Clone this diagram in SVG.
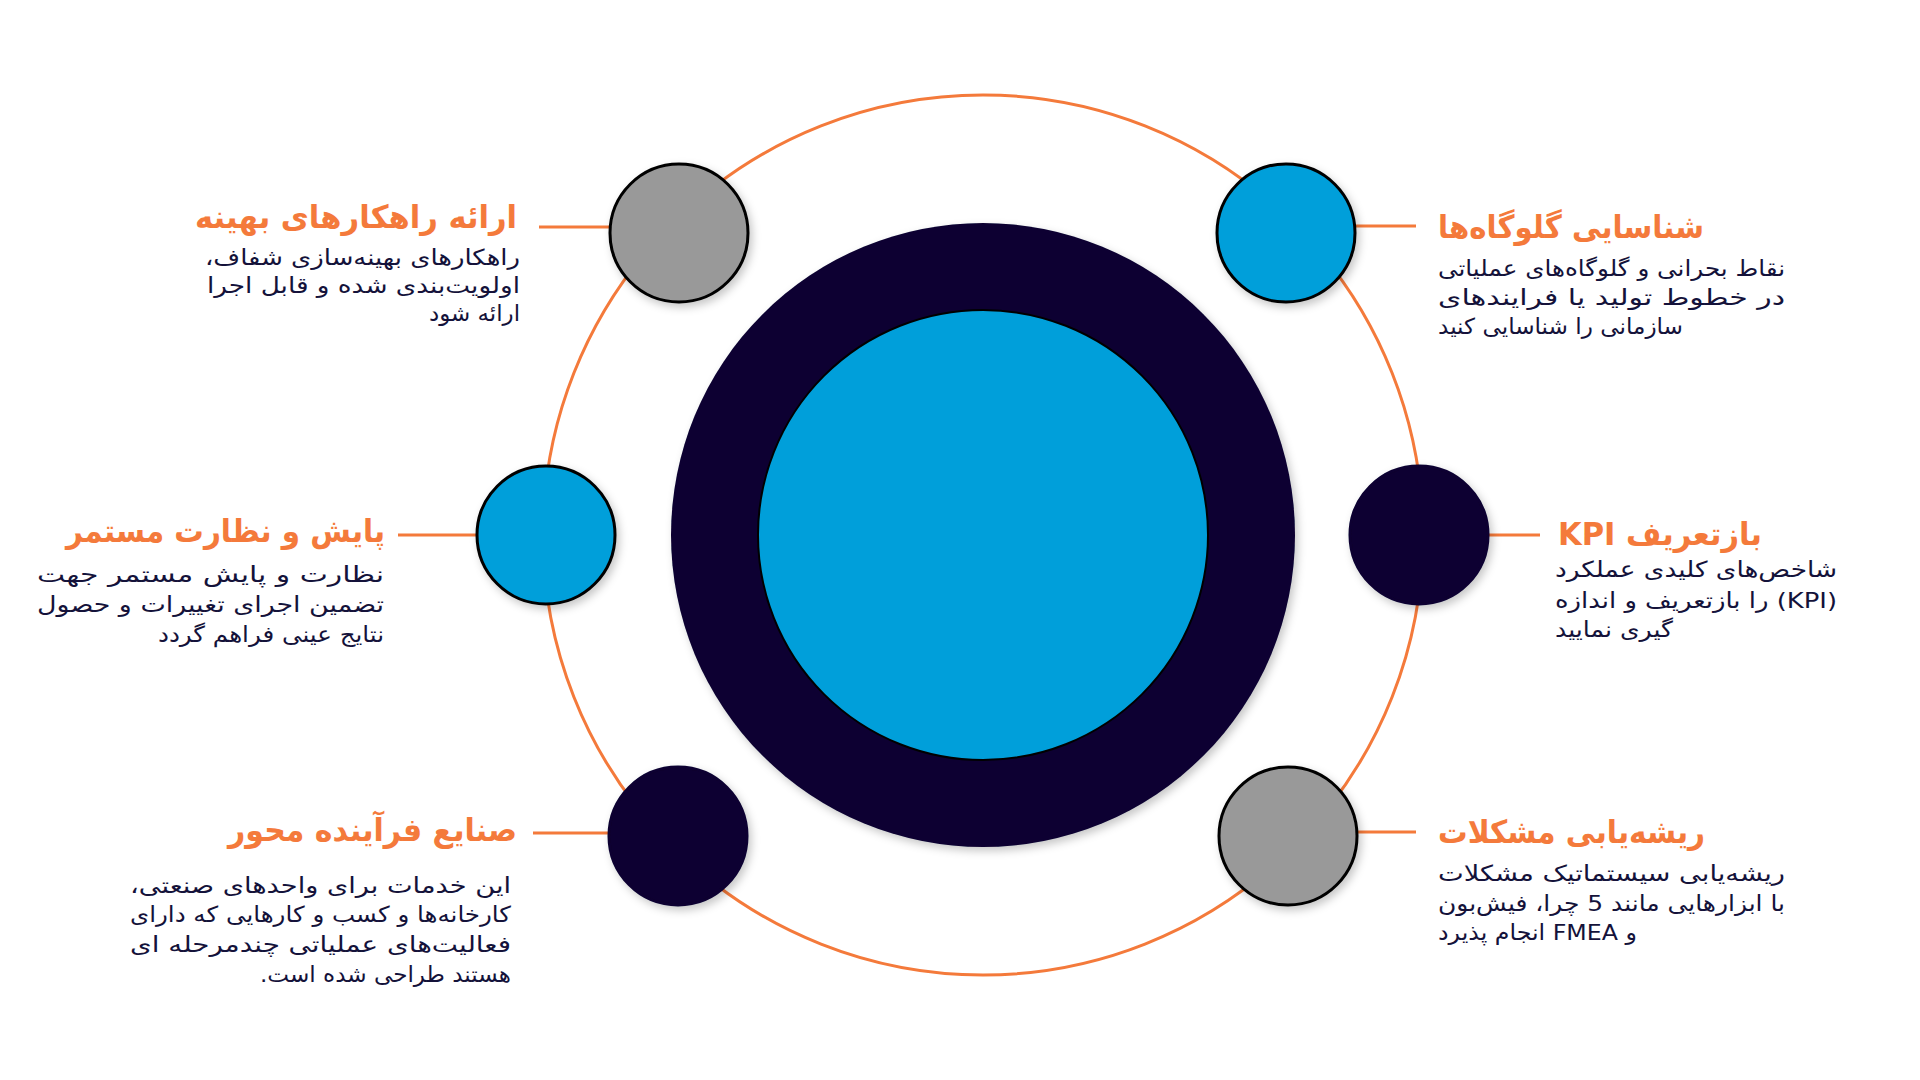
<svg xmlns="http://www.w3.org/2000/svg" width="1920" height="1080" viewBox="0 0 1920 1080">
  <defs>
    <filter id="shadow" x="-20%" y="-20%" width="150%" height="150%">
      <feDropShadow dx="3" dy="4" stdDeviation="4" flood-color="#000" flood-opacity="0.22"/>
    </filter>
    <style>
      .orbit { fill: none; stroke: #F47A3B; stroke-width: 3; }
      .conn { stroke: #F47A3B; stroke-width: 3; fill: none; }
      .node { stroke: #000; stroke-width: 3; filter: url(#shadow); }
      .gray { fill: #999999; }
      .blue { fill: #009FDA; }
      .navy { fill: #090530; stroke: #090530; }
      .title { font-family: "DejaVu Sans", sans-serif; font-weight: bold; font-size: 32px; fill: #F47A3B; direction: rtl; unicode-bidi: embed; }
      .body { font-family: "DejaVu Sans", sans-serif; font-size: 22px; fill: #14123A; direction: rtl; unicode-bidi: embed; }
    </style>
  </defs>
  <rect width="1920" height="1080" fill="#FFFFFF"/>

  <g id="orbit">
    <circle class="orbit" cx="983" cy="535" r="440"/>
  </g>

  <g id="connectors">
    <line class="conn" x1="539" y1="227" x2="612" y2="227"/>
    <line class="conn" x1="1353" y1="226" x2="1416" y2="226"/>
    <line class="conn" x1="398" y1="535" x2="478" y2="535"/>
    <line class="conn" x1="1486" y1="535" x2="1540" y2="535"/>
    <line class="conn" x1="533" y1="833" x2="611" y2="833"/>
    <line class="conn" x1="1356" y1="832" x2="1416" y2="832"/>
  </g>

  <g id="center">
    <circle cx="983" cy="535" r="312" fill="#090530" filter="url(#shadow)"/>
    <circle cx="983" cy="535" r="225" fill="#009FDA" stroke="#000" stroke-width="2"/>
  </g>

  <g id="node-optimal-solutions">
    <circle class="node gray" cx="679" cy="233" r="69"/>
    <text class="title" x="517" y="228" text-anchor="start" textLength="322" lengthAdjust="spacingAndGlyphs">ارائه راهکارهای بهینه</text>
    <text class="body" x="520" y="265" text-anchor="start" textLength="315" lengthAdjust="spacingAndGlyphs">راهکارهای بهینه‌سازی شفاف،</text>
    <text class="body" x="520" y="293" text-anchor="start" textLength="313" lengthAdjust="spacingAndGlyphs">اولویت‌بندی شده و قابل اجرا</text>
    <text class="body" x="520" y="321" text-anchor="start" textLength="91" lengthAdjust="spacingAndGlyphs">ارائه شود</text>
  </g>

  <g id="node-bottlenecks">
    <circle class="node blue" cx="1286" cy="233" r="69"/>
    <text class="title" x="1704" y="238" text-anchor="start" textLength="266" lengthAdjust="spacingAndGlyphs">شناسایی گلوگاه‌ها</text>
    <text class="body" x="1785" y="276" text-anchor="start" textLength="347" lengthAdjust="spacingAndGlyphs">نقاط بحرانی و گلوگاه‌های عملیاتی</text>
    <text class="body" x="1785" y="305" text-anchor="start" textLength="347" lengthAdjust="spacingAndGlyphs">در خطوط تولید یا فرایندهای</text>
    <text class="body" x="1683" y="334" text-anchor="start" textLength="245" lengthAdjust="spacingAndGlyphs">سازمانی را شناسایی کنید</text>
  </g>

  <g id="node-monitoring">
    <circle class="node blue" cx="546" cy="535" r="69"/>
    <text class="title" x="385" y="542" text-anchor="start" textLength="319" lengthAdjust="spacingAndGlyphs">پایش و نظارت مستمر</text>
    <text class="body" x="384" y="582" text-anchor="start" textLength="347" lengthAdjust="spacingAndGlyphs">نظارت و پایش مستمر جهت</text>
    <text class="body" x="384" y="612" text-anchor="start" textLength="347" lengthAdjust="spacingAndGlyphs">تضمین اجرای تغییرات و حصول</text>
    <text class="body" x="384" y="642" text-anchor="start" textLength="226" lengthAdjust="spacingAndGlyphs">نتایج عینی فراهم گردد</text>
  </g>

  <g id="node-kpi">
    <circle class="node navy" cx="1419" cy="535" r="69"/>
    <text class="title" x="1762" y="545" text-anchor="start" textLength="204" lengthAdjust="spacingAndGlyphs">بازتعریف KPI</text>
    <text class="body" x="1837" y="577" text-anchor="start" textLength="282" lengthAdjust="spacingAndGlyphs">شاخص‌های کلیدی عملکرد</text>
    <text class="body" x="1837" y="608" text-anchor="start" textLength="282" lengthAdjust="spacingAndGlyphs">(KPI) را بازتعریف و اندازه</text>
    <text class="body" x="1673" y="637" text-anchor="start" textLength="118" lengthAdjust="spacingAndGlyphs">گیری نمایید</text>
  </g>

  <g id="node-process-industries">
    <circle class="node navy" cx="678" cy="836" r="69"/>
    <text class="title" x="517" y="841" text-anchor="start" textLength="289" lengthAdjust="spacingAndGlyphs">صنایع فرآینده محور</text>
    <text class="body" x="511" y="893" text-anchor="start" textLength="381" lengthAdjust="spacingAndGlyphs">این خدمات برای واحدهای صنعتی،</text>
    <text class="body" x="511" y="922" text-anchor="start" textLength="381" lengthAdjust="spacingAndGlyphs">کارخانه‌ها و کسب و کارهایی که دارای</text>
    <text class="body" x="511" y="952" text-anchor="start" textLength="381" lengthAdjust="spacingAndGlyphs">فعالیت‌های عملیاتی چندمرحله ای</text>
    <text class="body" x="511" y="982" text-anchor="start" textLength="251" lengthAdjust="spacingAndGlyphs">هستند طراحی شده است.</text>
  </g>

  <g id="node-root-cause">
    <circle class="node gray" cx="1288" cy="836" r="69"/>
    <text class="title" x="1705" y="843" text-anchor="start" textLength="267" lengthAdjust="spacingAndGlyphs">ریشه‌یابی مشکلات</text>
    <text class="body" x="1785" y="881" text-anchor="start" textLength="347" lengthAdjust="spacingAndGlyphs">ریشه‌یابی سیستماتیک مشکلات</text>
    <text class="body" x="1785" y="911" text-anchor="start" textLength="347" lengthAdjust="spacingAndGlyphs">با ابزارهایی مانند 5 چرا، فیش‌بون</text>
    <text class="body" x="1637" y="940" text-anchor="start" textLength="199" lengthAdjust="spacingAndGlyphs">و FMEA انجام پذیرد</text>
  </g>
</svg>
